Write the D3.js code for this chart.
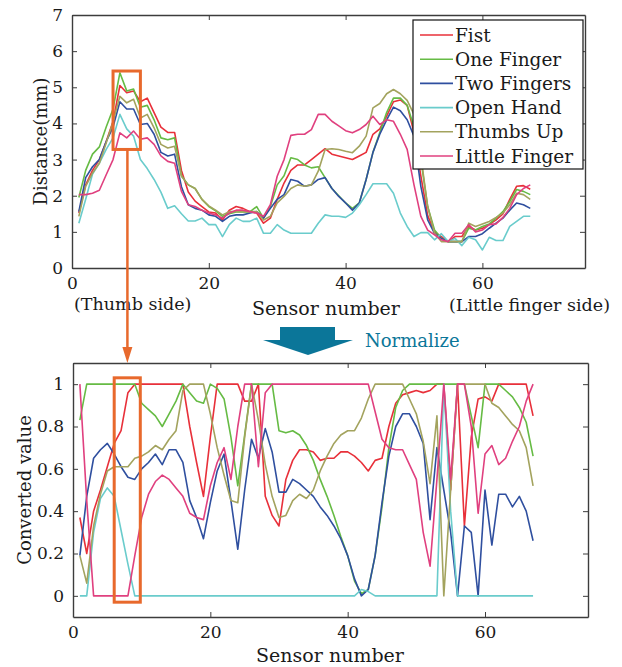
<!DOCTYPE html>
<html>
<head>
<meta charset="utf-8">
<script src="https://cdn.jsdelivr.net/npm/d3@7"></script>
<style>
  body { margin: 0; background: #fff; }
  text { font-family: "DejaVu Serif", serif; fill: #1a1a1a; }
</style>
</head>
<body>
<svg id="chart" width="622" height="667"></svg>
<script>
// sensor index 1..67
var sensors = d3.range(1, 68);
var gestures = ["Fist", "One Finger", "Two Fingers", "Open Hand", "Thumbs Up", "Little Finger"];
var gestureColors = ["#e8303a", "#66bb44", "#2f4f9f", "#6acccc", "#a3a35e", "#e0407f"];
var distanceTicks = [0, 1, 2, 3, 4, 5, 6, 7];
var convertedTicks = [0, 0.2, 0.4, 0.6, 0.8, 1];
var sensorTicks = [0, 20, 40, 60];

// distance (mm) per sensor
var distFist = [1.52, 2.3, 2.7, 3.0, 3.5, 4.05, 5.05, 4.85, 4.9, 4.6, 4.7, 4.3, 3.9, 3.75, 3.75, 2.7, 2.1, 1.85, 1.7, 1.55,
  1.52, 1.33, 1.6, 1.7, 1.65, 1.56, 1.52, 1.24, 1.38, 1.9, 2.35, 2.7, 2.85, 2.85, 3.0, 3.15, 3.3, 3.15, 3.1, 3.05,
  3.0, 3.1, 3.2, 3.7, 3.85, 4.2, 4.6, 4.65, 4.5, 3.75, 2.55, 1.45, 1.0, 0.87, 0.73, 0.87, 0.87, 1.15, 1.05, 1.1,
  1.2, 1.33, 1.5, 1.9, 2.26, 2.28, 2.18];
var distOneFinger = [1.95, 2.7, 3.15, 3.35, 3.9, 4.4, 5.4, 4.9, 4.95, 4.45, 4.5, 4.1, 3.6, 3.55, 3.6, 2.55, 2.3, 2.2, 1.9, 1.7,
  1.58, 1.43, 1.5, 1.55, 1.55, 1.55, 1.7, 1.38, 1.7, 2.3, 2.55, 3.05, 3.0, 2.85, 2.77, 2.8, 2.5, 2.2, 2.0, 1.8,
  1.65, 1.8, 2.45, 3.2, 3.75, 4.3, 4.7, 4.7, 4.5, 3.9, 3.0, 1.7, 1.05, 0.82, 0.73, 0.73, 0.73, 1.1, 1.05, 1.15,
  1.22, 1.38, 1.56, 1.84, 2.17, 2.12, 2.03];
var distTwoFingers = [1.56, 2.5, 2.8, 3.0, 3.5, 3.9, 4.6, 4.4, 4.4, 3.97, 4.0, 3.7, 3.2, 3.1, 3.15, 2.25, 1.75, 1.65, 1.6, 1.47,
  1.43, 1.29, 1.43, 1.47, 1.47, 1.52, 1.56, 1.38, 1.65, 1.9, 2.03, 2.45, 2.4, 2.26, 2.3, 2.45, 2.5, 2.2, 1.98, 1.8,
  1.6, 1.8, 2.45, 3.2, 3.7, 4.1, 4.45, 4.35, 4.1, 3.65, 2.26, 1.33, 0.96, 0.82, 0.73, 0.73, 0.73, 0.87, 0.87, 0.95,
  1.1, 1.24, 1.38, 1.6, 1.8, 1.75, 1.65];
var distOpenHand = [1.24, 1.9, 2.6, 2.9, 3.28, 3.6, 4.25, 3.85, 3.65, 3.0, 2.75, 2.45, 2.1, 1.65, 1.72, 1.5, 1.3, 1.3, 1.38, 1.2,
  1.2, 0.87, 1.2, 1.38, 1.29, 1.29, 1.38, 0.96, 0.96, 1.2, 1.05, 0.96, 0.96, 0.96, 0.96, 1.24, 1.47, 1.43, 1.43, 1.4,
  1.52, 1.75, 2.03, 2.33, 2.33, 2.33, 2.07, 1.52, 1.15, 0.87, 0.98, 0.98, 0.78, 0.95, 0.73, 0.82, 0.62, 0.85, 0.78, 0.5,
  0.85, 0.76, 0.76, 1.15, 1.29, 1.43, 1.43];
var distThumbsUp = [1.43, 2.26, 2.63, 2.9, 3.46, 4.05, 4.75, 4.57, 4.67, 4.15, 4.25, 3.88, 3.42, 3.32, 3.37, 2.54, 2.3, 2.2, 1.9, 1.72,
  1.6, 1.47, 1.56, 1.56, 1.56, 1.56, 1.56, 1.33, 1.43, 1.8, 1.98, 2.2, 2.3, 2.26, 2.3, 2.68, 3.28, 3.3, 3.28, 3.23,
  3.19, 3.37, 3.65, 4.43, 4.55, 4.82, 4.94, 4.82, 4.64, 4.25, 3.1, 1.7, 0.96, 0.73, 0.73, 0.73, 0.73, 1.24, 1.15, 1.22,
  1.29, 1.4, 1.52, 1.75, 2.07, 2.03, 1.9];
var distLittleFinger = [2.03, 2.03, 2.07, 2.15, 2.58, 3.0, 3.74, 3.6, 3.79, 3.56, 3.6, 3.42, 3.1, 2.95, 2.9, 2.12, 1.75, 1.7, 1.6, 1.52,
  1.47, 1.38, 1.52, 1.6, 1.6, 1.56, 1.52, 1.43, 1.75, 2.54, 3.0, 3.67, 3.7, 3.7, 3.83, 4.25, 4.25, 4.06, 3.93, 3.8,
  3.74, 3.83, 3.97, 4.2, 3.97, 4.1, 4.06, 3.7, 3.28, 2.3, 1.43, 1.05, 0.92, 0.78, 0.73, 0.96, 0.96, 1.2, 1.0, 1.05,
  1.2, 1.22, 1.4, 1.65, 2.03, 2.2, 2.3];

// converted (normalized) value per sensor
var convFist = [0.37, 0.2, 0.4, 0.5, 0.61, 0.72, 0.78, 0.96, 1, 1, 1, 1, 1, 1, 1, 1, 0.8, 0.63, 0.47, 0.75,
  1, 1, 1, 1, 0.92, 0.92, 1, 0.47, 0.38, 0.33, 0.55, 0.64, 0.69, 0.69, 0.68, 0.64, 0.65, 0.65, 0.68, 0.68,
  0.66, 0.63, 0.59, 0.64, 0.65, 0.8, 0.91, 0.95, 0.96, 0.97, 0.96, 0.97, 1, 1, 0.5, 1, 0.33, 0.75, 0.93, 0.94,
  0.92, 1, 1, 1, 1, 1, 0.85];
var convOneFinger = [0.83, 1, 1, 1, 1, 1, 1, 1, 1, 0.91, 0.88, 0.85, 0.8, 0.86, 0.92, 1, 0.96, 0.92, 0.91, 1,
  0.98, 0.93, 0.75, 0.52, 0.76, 1, 1, 1, 1, 0.78, 0.77, 0.78, 0.76, 0.71, 0.64, 0.55, 0.47, 0.38, 0.28, 0.19,
  0.07, 0.01, 0.03, 0.19, 0.42, 0.7, 0.89, 0.97, 1, 1, 1, 1, 1, 1, 1, 1, 1, 0.85, 0.7, 1,
  1, 1, 0.97, 0.94, 0.89, 0.82, 0.66];
var convTwoFingers = [0.19, 0.47, 0.65, 0.69, 0.72, 0.67, 0.61, 0.56, 0.55, 0.6, 0.63, 0.67, 0.62, 0.69, 0.69, 0.63, 0.45, 0.37, 0.27, 0.44,
  0.59, 0.67, 0.45, 0.22, 0.5, 0.74, 0.65, 0.79, 0.68, 0.49, 0.49, 0.55, 0.53, 0.5, 0.47, 0.42, 0.38, 0.33, 0.27, 0.19,
  0.08, 0.0, 0.03, 0.19, 0.44, 0.66, 0.8, 0.86, 0.86, 0.8, 0.72, 0.36, 0.7, 0.5, 0.3, 0, 0.33, 0.3, 0, 0.5,
  0.24, 0.48, 0.48, 0.42, 0.47, 0.4, 0.26];
var convOpenHand = [0, 0, 0.3, 0.46, 0.51, 0.47, 0.31, 0.15, 0, 0, 0, 0, 0, 0, 0, 0, 0, 0, 0, 0,
  0, 0, 0, 0, 0, 0, 0, 0, 0, 0, 0, 0, 0, 0, 0, 0, 0, 0, 0, 0,
  0, 0.03, 0.02, 0, 0, 0, 0, 0, 0, 0, 0, 0, 0, 1, 0.4, 0, 0, 0, 0, 0,
  0, 0, 0, 0, 0, 0, 0];
var convThumbsUp = [0.19, 0.06, 0.33, 0.48, 0.59, 0.61, 0.61, 0.61, 0.65, 0.66, 0.68, 0.71, 0.69, 0.74, 0.78, 0.97, 1, 1, 1, 0.86,
  0.7, 0.57, 0.45, 0.44, 0.75, 1, 0.83, 0.62, 0.47, 0.37, 0.38, 0.45, 0.48, 0.46, 0.5, 0.59, 0.66, 0.72, 0.76, 0.78,
  0.78, 0.84, 0.93, 1, 1, 1, 1, 1, 0.93, 0.86, 0.73, 0.53, 0.85, 0, 0.5, 1, 1, 1, 1, 1,
  0.91, 0.89, 0.85, 0.81, 0.78, 0.7, 0.52];
var convLittleFinger = [1, 0.45, 0, 0, 0, 0, 0, 0, 0.19, 0.37, 0.48, 0.54, 0.57, 0.55, 0.51, 0.47, 0.39, 0.37, 0.36, 0.52,
  0.63, 0.7, 0.55, 0.8, 1, 1, 0.61, 0.96, 1, 1, 1, 1, 1, 1, 1, 1, 1, 1, 1, 1,
  1, 1, 1, 0.87, 0.74, 0.7, 0.69, 0.69, 0.62, 0.55, 0.3, 0.14, 0.55, 1, 0.55, 1, 1, 0.8, 0.39, 0.67,
  0.71, 0.62, 0.65, 0.73, 0.8, 0.92, 1];

var distSeries = [distFist, distOneFinger, distTwoFingers, distOpenHand, distThumbsUp, distLittleFinger];
var convSeries = [convFist, convOneFinger, convTwoFingers, convOpenHand, convThumbsUp, convLittleFinger];

var svg = d3.select("#chart");
var AXIS_COLOR = "#3c3c3c";
var ORANGE = "#e8692c";
var TEAL = "#0b7699";

function drawPanel(box, yDomain, yTicks, series, yFormat) {
    var x = d3.scaleLinear().domain([0, 75]).range([box.left, box.right]);
    var y = d3.scaleLinear().domain(yDomain).range([box.bottom, box.top]);
    var g = svg.append("g");

    g.append("rect")
        .attr("x", box.left).attr("y", box.top)
        .attr("width", box.right - box.left).attr("height", box.bottom - box.top)
        .attr("fill", "#fff");

    var line = d3.line()
        .x(function (d, i) { return x(sensors[i]); })
        .y(function (d) { return y(d); });

    series.forEach(function (values, k) {
        g.append("path")
            .datum(values)
            .attr("d", line)
            .attr("fill", "none")
            .attr("stroke", gestureColors[k])
            .attr("stroke-width", 1.6)
            .attr("stroke-linejoin", "round");
    });

    // MATLAB style box with ticks pointing inward on all sides
    var axes = [
        [d3.axisBottom(x).tickValues(sensorTicks), "translate(0," + box.bottom + ")", true],
        [d3.axisTop(x).tickValues(sensorTicks), "translate(0," + box.top + ")", false],
        [d3.axisLeft(y).tickValues(yTicks).tickFormat(yFormat), "translate(" + box.left + ",0)", true],
        [d3.axisRight(y).tickValues(yTicks), "translate(" + box.right + ",0)", false]
    ];
    axes.forEach(function (a) {
        var ax = g.append("g")
            .attr("transform", a[1])
            .call(a[0].tickSizeInner(-5).tickSizeOuter(0).tickPadding(9));
        ax.select(".domain").attr("stroke", AXIS_COLOR).attr("stroke-width", 1.4);
        ax.selectAll(".tick line").attr("stroke", AXIS_COLOR);
        ax.selectAll("text")
            .style("font-family", "DejaVu Serif, serif")
            .style("font-size", "17px")
            .attr("fill", "#1a1a1a");
        if (!a[2]) {
            ax.selectAll("text").remove();
        }
    });

    return { x: x, y: y, g: g };
}

var topPanel = drawPanel({ left: 72, right: 585, top: 15, bottom: 268 }, [0, 7], distanceTicks,
    distSeries, d3.format("d"));
var bottomPanel = drawPanel({ left: 73, right: 588, top: 363, bottom: 617 }, [-0.1, 1.1], convertedTicks,
    convSeries, function (d) { return d === 0 || d === 1 ? String(d) : d3.format(".1f")(d); });

// axis titles
svg.append("text")
    .attr("transform", "translate(47," + topPanel.y(3.5) + ") rotate(-90)")
    .attr("text-anchor", "middle")
    .style("font-size", "18px")
    .text("Distance(mm)");
svg.append("text")
    .attr("x", 326).attr("y", 315)
    .attr("text-anchor", "middle")
    .style("font-size", "19px")
    .text("Sensor number");
svg.append("text")
    .attr("x", 74).attr("y", 310)
    .style("font-size", "17.5px")
    .text("(Thumb side)");
svg.append("text")
    .attr("x", 610).attr("y", 311)
    .attr("text-anchor", "end")
    .style("font-size", "17.5px")
    .text("(Little finger side)");

svg.append("text")
    .attr("transform", "translate(31," + bottomPanel.y(0.5) + ") rotate(-90)")
    .attr("text-anchor", "middle")
    .style("font-size", "18px")
    .text("Converted value");
svg.append("text")
    .attr("x", 330).attr("y", 662)
    .attr("text-anchor", "middle")
    .style("font-size", "19px")
    .text("Sensor number");

// legend
var legend = svg.append("g").attr("transform", "translate(413,20)");
legend.append("rect")
    .attr("width", 170).attr("height", 149)
    .attr("fill", "#fff").attr("stroke", "#111").attr("stroke-width", 1.2);
gestures.forEach(function (name, k) {
    var ly = 15 + k * 24.2;
    legend.append("line")
        .attr("x1", 7).attr("x2", 40).attr("y1", ly).attr("y2", ly)
        .attr("stroke", gestureColors[k]).attr("stroke-width", 1.6);
    legend.append("text")
        .attr("x", 42).attr("y", ly + 6.5)
        .style("font-size", "18.5px")
        .text(name);
});

// normalize arrow
svg.append("path")
    .attr("d", "M280,327 L335,327 L335,340 L353,340 L308,355 L263,340 L280,340 Z")
    .attr("fill", TEAL);
svg.append("text")
    .attr("x", 365).attr("y", 347)
    .style("font-size", "18px")
    .style("fill", TEAL)
    .text("Normalize");

// orange highlight boxes and connecting arrow
var ann = svg.append("g");
ann.append("rect")
    .attr("x", topPanel.x(6)).attr("y", topPanel.y(5.45))
    .attr("width", topPanel.x(10) - topPanel.x(6)).attr("height", topPanel.y(3.28) - topPanel.y(5.45))
    .attr("fill", "none").attr("stroke", ORANGE).attr("stroke-width", 3);
ann.append("rect")
    .attr("x", bottomPanel.x(6)).attr("y", bottomPanel.y(1.03))
    .attr("width", bottomPanel.x(9.8) - bottomPanel.x(6)).attr("height", bottomPanel.y(-0.03) - bottomPanel.y(1.03))
    .attr("fill", "none").attr("stroke", ORANGE).attr("stroke-width", 3);
var ax0 = topPanel.x(8.1);
ann.append("line")
    .attr("x1", ax0).attr("x2", ax0)
    .attr("y1", topPanel.y(3.28)).attr("y2", 350)
    .attr("stroke", ORANGE).attr("stroke-width", 2.5);
ann.append("path")
    .attr("d", "M" + (ax0 - 5) + ",347 L" + (ax0 + 5) + ",347 L" + ax0 + ",363 Z")
    .attr("fill", ORANGE);
</script>
</body>
</html>
